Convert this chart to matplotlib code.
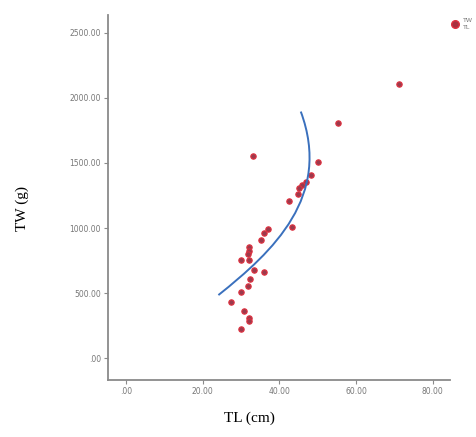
import matplotlib.pyplot as plt
from matplotlib.path import Path
from matplotlib.patches import PathPatch
from matplotlib.lines import Line2D

# ---- data ----
tl_cm = [71.2, 55.2, 33.1, 50.1, 48.3, 47.0, 45.8, 45.1, 45.0, 42.5,
         43.3, 37.0, 36.1, 35.1, 32.1, 32.1, 31.9, 29.9, 32.0, 33.3,
         36.1, 32.4, 31.9, 29.9, 27.3, 30.9, 32.0, 32.2, 29.9]
tw_g = [2105, 1805, 1554, 1508, 1405, 1356, 1331, 1305, 1259, 1210,
        1010, 990, 959, 905, 856, 825, 800, 756, 756, 677,
        659, 608, 556, 508, 428, 362, 305, 285, 228]

# hand-drawn arc over the scatter (cubic bezier: start, ctrl1, ctrl2, end)
arc_x = [24.1, 38.4, 53.8, 45.6]
arc_y = [485, 821, 1244, 1895]

x_ticks = [0, 20, 40, 60, 80]
y_ticks = [0, 500, 1000, 1500, 2000, 2500]

def fmt(v):
    return ".00" if v == 0 else f"{v:.2f}"

fig = plt.figure(figsize=(4.76, 4.37), dpi=100)
ax = fig.add_axes([0.227, 0.130, 0.718, 0.836])

ax.scatter(tl_cm, tw_g, s=15, facecolor='#9c3a4c', edgecolor='#e0303f',
           linewidth=0.8, zorder=3)

verts = list(zip(arc_x, arc_y))
codes = [Path.MOVETO, Path.CURVE4, Path.CURVE4, Path.CURVE4]
ax.add_patch(PathPatch(Path(verts, codes), facecolor='none',
                       edgecolor='#3a70bd', linewidth=1.4, zorder=4))

ax.set_xlim(-4.7, 84.5)
ax.set_ylim(-169, 2638)
ax.set_xticks(x_ticks)
ax.set_xticklabels([fmt(v) for v in x_ticks])
ax.set_yticks(y_ticks)
ax.set_yticklabels([fmt(v) for v in y_ticks])

for side in ['top', 'right']:
    ax.spines[side].set_visible(False)
for side in ['left', 'bottom']:
    ax.spines[side].set_color('#8a8a8a')
    ax.spines[side].set_linewidth(1.3)
ax.tick_params(length=3, width=0.8, color='#8a8a8a', labelsize=5.5,
               labelcolor='#777777', pad=2)

fig.text(0.047, 0.524, "TW (g)", rotation=90, ha='center', va='center',
         family='Liberation Serif', fontsize=11)
fig.text(0.523, 0.043, "TL (cm)", ha='center', va='center',
         family='Liberation Serif', fontsize=11)

# legend stub, cut off by the right edge like the original
fig.add_artist(Line2D([0.956], [0.945], marker='o', markersize=5.5,
                      markerfacecolor='#a8303f', markeredgecolor='#e0303f',
                      transform=fig.transFigure))
fig.text(0.972, 0.953, "TW", fontsize=4.5, color='#777777', va='center')
fig.text(0.972, 0.937, "TL", fontsize=4.5, color='#777777', va='center')

fig.savefig("out.png", dpi=100)
